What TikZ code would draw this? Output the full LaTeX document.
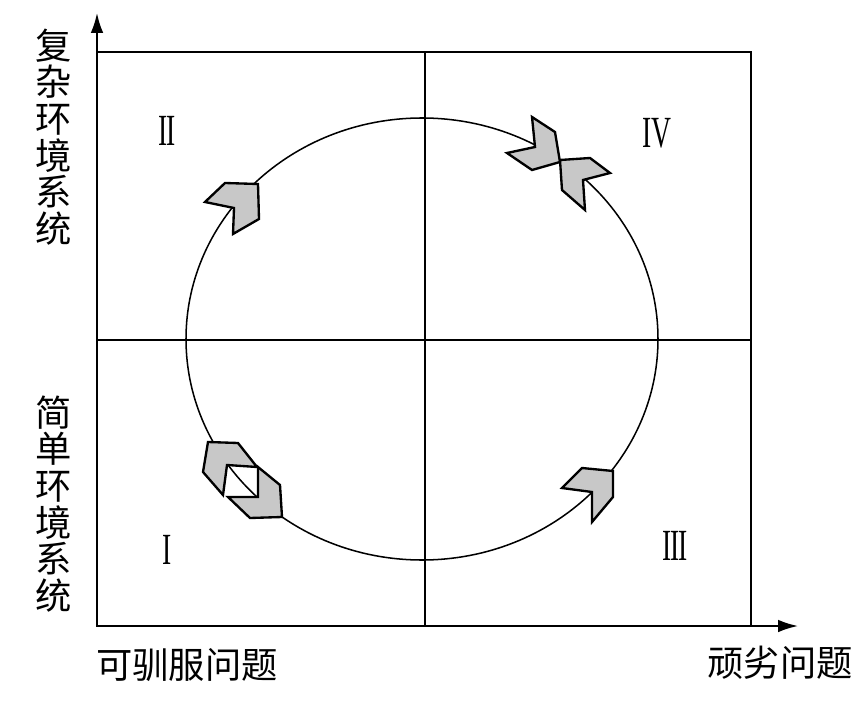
\documentclass[tikz,border=0pt]{standalone}
\usepackage{fontspec}
\setmainfont{Liberation Serif}
\newfontfamily\cjk{Noto Sans CJK SC}
\usetikzlibrary{arrows.meta}
\definecolor{chev}{RGB}{200,200,200}

\begin{document}
\begin{tikzpicture}[x=0.03cm, y=-0.03cm,
    ax/.style={-{Latex[length=0.6cm,width=0.38cm]}, line width=1.7pt},
    fr/.style={line width=1.7pt},
    cv/.style={fill=chev, draw=black, line width=2pt, line join=miter},
    lb/.style={font=\cjk\fontsize{31}{31.3}\selectfont, align=center, inner sep=0pt},
    rn/.style={font=\fontsize{38}{38}\selectfont, inner sep=0pt}]
  \useasboundingbox (0,0) rectangle (867,707);
  % frame and axes
  \coordinate (o) at (97,626);
  \coordinate (ytop) at (97,13);
  \coordinate (xend) at (798,626);
  \draw[fr] (97,52) rectangle (751,626);
  \draw[fr] (97,340) -- (751,340);
  \draw[fr] (425,52) -- (425,626);
  \draw[ax] (o) -- (ytop);
  \draw[ax] (o) -- (xend);
  % cycle
  \draw[line width=1.3pt] (422,339) ellipse [x radius=236, y radius=221];
  \draw[cv] (258,184) -- (259,219) -- (233,234) -- (234,208) -- (205,202) -- (225,183) -- cycle;
  \draw[cv] (582,468) -- (613,471) -- (613,497) -- (592,522) -- (592,492) -- (562,488) -- cycle;
  \draw[cv] (532,117) -- (555,132) -- (560,162) -- (532,170) -- (507,153) -- (535,147) -- cycle;
  \draw[cv] (560,160) -- (590,158) -- (610,173) -- (583,180) -- (585,210) -- (562,190) -- cycle;
  \draw[cv] (208,442) -- (238,443) -- (257,467) -- (227,465) -- (223,495) -- (203,472) -- cycle;
  \draw[cv] (282,517) -- (280,485) -- (258,467) -- (258,497) -- (228,497) -- (250,518) -- cycle;
  % labels
  \node[lb] (cx) at (54,137) {复\\杂\\环\\境\\系\\统};
  \node[lb] (sp) at (54,504) {简\\单\\环\\境\\系\\统};
  \node[lb] (tm) at (187,665) {可驯服问题};
  \node[lb] (wk) at (780,663) {顽劣问题};
  \node[rn] (q1) at (167,550) {\scalebox{0.62}[1]{I}};
  \node[rn] (q2) at (167,131) {\scalebox{0.62}[1]{I\kern-1pt I}};
  \node[rn] (q3) at (675,546) {\scalebox{0.62}[1]{I\kern-2pt I\kern-2pt I}};
  \node[rn] (q4) at (657,133) {\scalebox{0.62}[1]{IV}};
\end{tikzpicture}
\end{document}
